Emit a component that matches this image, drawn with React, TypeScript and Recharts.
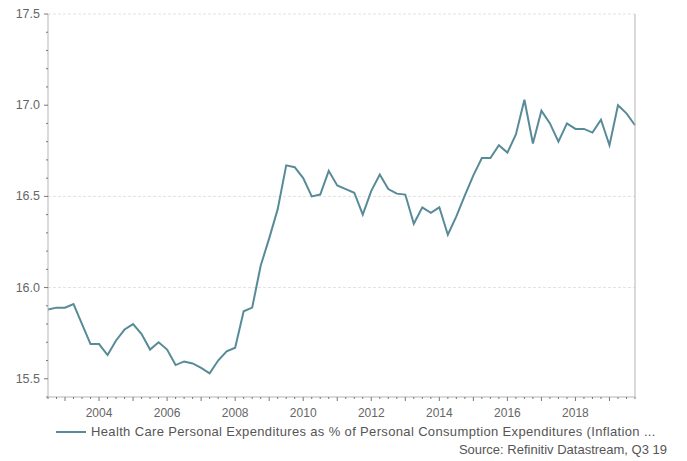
import React from 'react';
import { LineChart, Line, XAxis, YAxis, ReferenceLine } from 'recharts';

const quarters = [
  '2002 Q3', '2002 Q4',
  '2003 Q1', '2003 Q2', '2003 Q3', '2003 Q4',
  '2004 Q1', '2004 Q2', '2004 Q3', '2004 Q4',
  '2005 Q1', '2005 Q2', '2005 Q3', '2005 Q4',
  '2006 Q1', '2006 Q2', '2006 Q3', '2006 Q4',
  '2007 Q1', '2007 Q2', '2007 Q3', '2007 Q4',
  '2008 Q1', '2008 Q2', '2008 Q3', '2008 Q4',
  '2009 Q1', '2009 Q2', '2009 Q3', '2009 Q4',
  '2010 Q1', '2010 Q2', '2010 Q3', '2010 Q4',
  '2011 Q1', '2011 Q2', '2011 Q3', '2011 Q4',
  '2012 Q1', '2012 Q2', '2012 Q3', '2012 Q4',
  '2013 Q1', '2013 Q2', '2013 Q3', '2013 Q4',
  '2014 Q1', '2014 Q2', '2014 Q3', '2014 Q4',
  '2015 Q1', '2015 Q2', '2015 Q3', '2015 Q4',
  '2016 Q1', '2016 Q2', '2016 Q3', '2016 Q4',
  '2017 Q1', '2017 Q2', '2017 Q3', '2017 Q4',
  '2018 Q1', '2018 Q2', '2018 Q3', '2018 Q4',
  '2019 Q1', '2019 Q2', '2019 Q3', '2019 Q4',
];

// health care spending, % of total PCE
const healthShare = [
  15.88, 15.89,
  15.89, 15.91, 15.80, 15.69,
  15.69, 15.63, 15.71, 15.77,
  15.80, 15.745, 15.66, 15.70,
  15.66, 15.575, 15.595, 15.584,
  15.56, 15.53, 15.60, 15.65,
  15.67, 15.87, 15.89, 16.12,
  16.27, 16.43, 16.67, 16.66,
  16.60, 16.50, 16.51, 16.64,
  16.56, 16.54, 16.52, 16.40,
  16.53, 16.62, 16.54, 16.515,
  16.51, 16.35, 16.44, 16.41,
  16.44, 16.29, 16.39, 16.505,
  16.615, 16.71, 16.71, 16.78,
  16.74, 16.84, 17.03, 16.79,
  16.97, 16.90, 16.80, 16.90,
  16.87, 16.87, 16.85, 16.92,
  16.78, 17.00, 16.955, 16.89,
];

const yearLabels = ['2004', '2006', '2008', '2010', '2012', '2014', '2016', '2018'];
const yTicks = [
  15.4, 15.5, 15.6, 15.7, 15.8, 15.9, 16.0, 16.1, 16.2, 16.3, 16.4,
  16.5, 16.6, 16.7, 16.8, 16.9, 17.0, 17.1, 17.2, 17.3, 17.4, 17.5,
];
const gridValues = [16.0, 16.5, 17.5];

const seriesName =
  'Health Care Personal Expenditures as % of Personal Consumption Expenditures (Inflation ...';
const sourceText = 'Source: Refinitiv Datastream, Q3 19';

const LINE_COLOR = '#578b98';
const AXIS_COLOR = '#b4b4b4';
const TEXT_COLOR = '#666';
const FONT = '"Liberation Sans", Arial, sans-serif';

const data = quarters.map((q, i) => ({ q, v: healthShare[i] }));

function XTick({ x, y, payload }: any) {
  const label: string = payload.value;
  const year = label.slice(0, 4);
  const isQ1 = label.endsWith('Q1');
  const showYear = isQ1 && yearLabels.includes(year);
  return (
    <g>
      <line x1={x} x2={x} y1={y} y2={y + (isQ1 ? 4 : 2)} stroke="#777" strokeWidth={1} />
      {showYear && (
        <text x={x} y={y + 20} textAnchor="middle" fill={TEXT_COLOR} fontSize={12} fontFamily={FONT}>
          {year}
        </text>
      )}
    </g>
  );
}

function YTick({ x, y, payload, side }: any) {
  const v: number = payload.value;
  const major = Math.round(v * 10) % 5 === 0;
  const dir = side === 'left' ? -1 : 1;
  return (
    <g>
      <line x1={x} x2={x + dir * (major ? 4 : 2)} y1={y} y2={y} stroke="#777" strokeWidth={1} />
      {major && (
        <text
          x={x + dir * 8}
          y={y + 4}
          textAnchor={side === 'left' ? 'end' : 'start'}
          fill={TEXT_COLOR}
          fontSize={12.5}
          fontFamily={FONT}
        >
          {v.toFixed(1)}
        </text>
      )}
    </g>
  );
}

export default function App() {
  return (
    <div style={{ position: 'absolute', left: 0, top: 0, width: 687, height: 461, background: '#fff' }}>
      <LineChart width={687} height={461} data={data} margin={{ top: 14, right: 12, left: 8, bottom: 44 }}>
        <XAxis
          dataKey="q"
          interval={0}
          tickSize={0}
          tickMargin={0}
          tickLine={false}
          axisLine={{ stroke: AXIS_COLOR }}
          tick={<XTick />}
          height={20}
        />
        <YAxis
          yAxisId="left"
          orientation="left"
          domain={[15.4, 17.5]}
          ticks={yTicks}
          interval={0}
          width={40}
          tickSize={0}
          tickMargin={0}
          tickLine={false}
          axisLine={{ stroke: AXIS_COLOR }}
          tick={<YTick side="left" />}
        />
        <YAxis
          yAxisId="right"
          orientation="right"
          domain={[15.4, 17.5]}
          ticks={yTicks}
          interval={0}
          width={40}
          tickSize={0}
          tickMargin={0}
          tickLine={false}
          axisLine={{ stroke: AXIS_COLOR }}
          tick={<YTick side="right" />}
        />
        {gridValues.map((g) => (
          <ReferenceLine key={g} yAxisId="left" y={g} stroke="#e2e2e2" strokeDasharray="3 2" />
        ))}
        <Line
          yAxisId="left"
          type="linear"
          dataKey="v"
          stroke={LINE_COLOR}
          strokeWidth={2}
          dot={false}
          isAnimationActive={false}
        />
      </LineChart>
      <div
        style={{
          position: 'absolute',
          left: 56,
          top: 424,
          display: 'flex',
          alignItems: 'center',
          fontFamily: FONT,
          fontSize: 13,
          letterSpacing: 0.35,
          color: '#555',
          whiteSpace: 'nowrap',
        }}
      >
        <span style={{ display: 'inline-block', width: 30, height: 2, background: LINE_COLOR, marginRight: 5 }} />
        <span>{seriesName}</span>
      </div>
      <div
        style={{
          position: 'absolute',
          right: 20,
          top: 442,
          fontFamily: FONT,
          fontSize: 13,
          color: '#555',
          whiteSpace: 'nowrap',
        }}
      >
        {sourceText}
      </div>
    </div>
  );
}
